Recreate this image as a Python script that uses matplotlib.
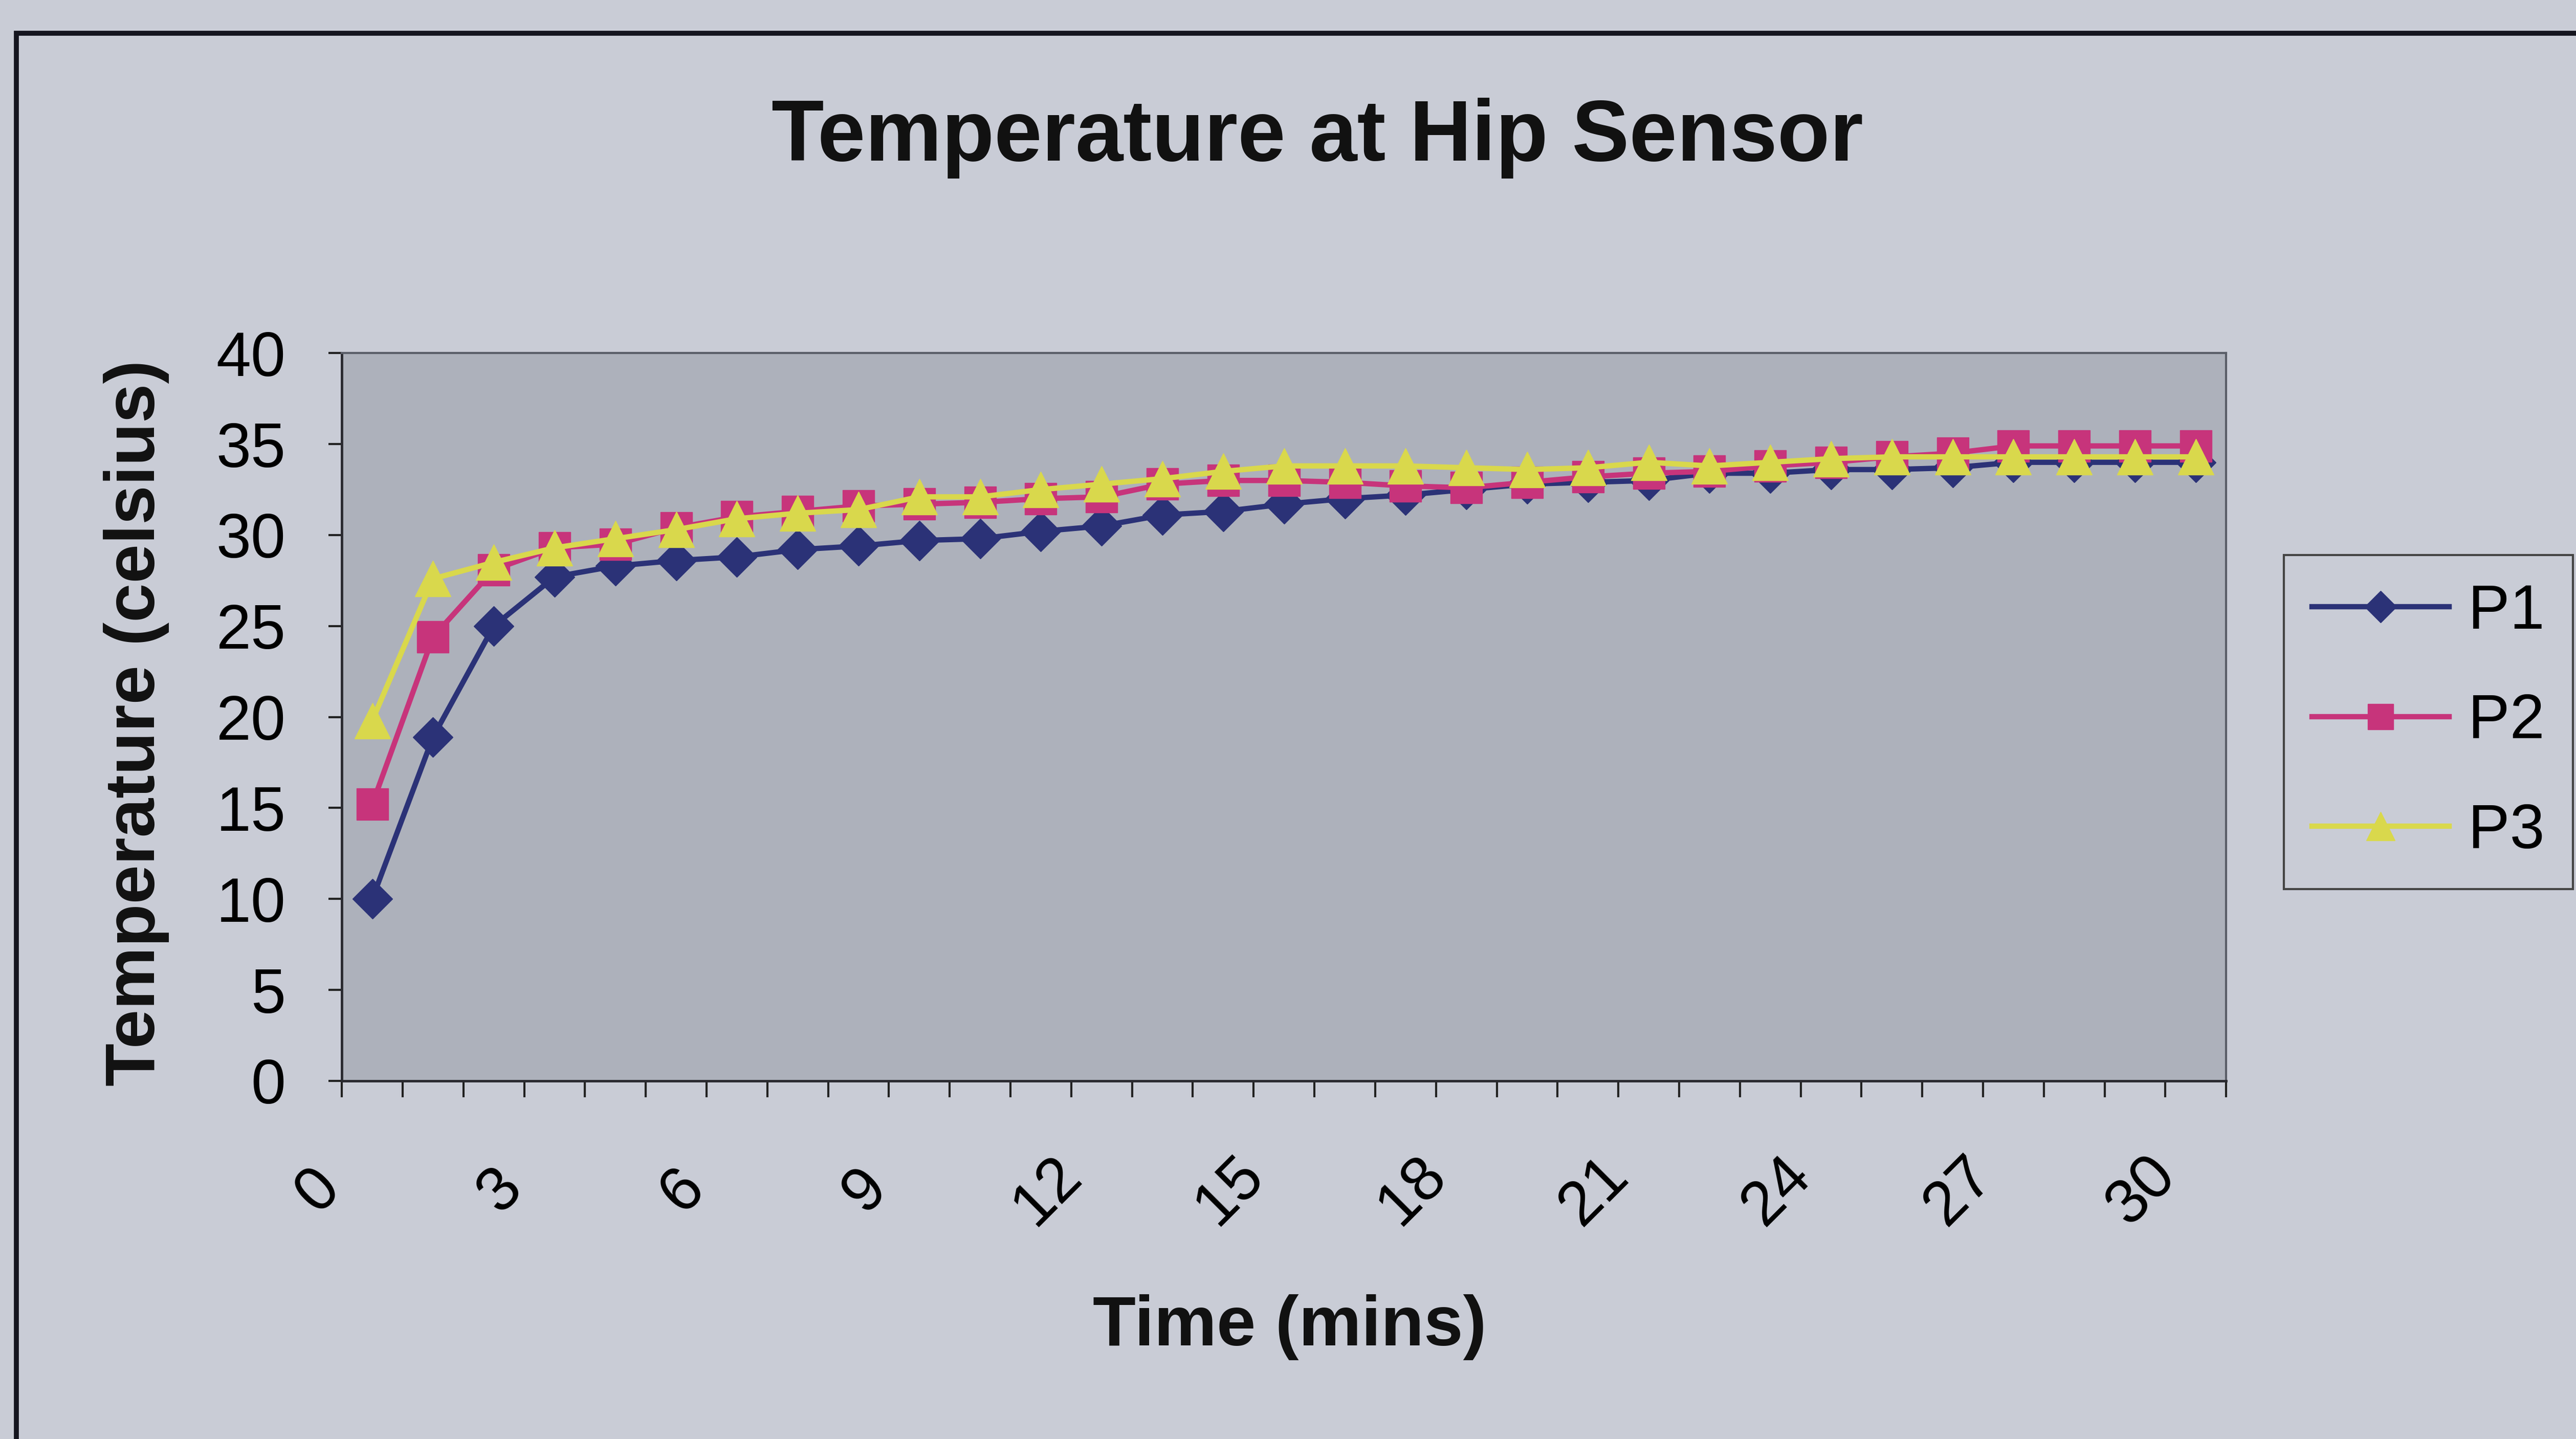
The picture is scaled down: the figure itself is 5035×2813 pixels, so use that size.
import matplotlib
matplotlib.use('Agg')
import matplotlib.pyplot as plt
import numpy as np
from matplotlib.patches import Rectangle
from matplotlib.transforms import ScaledTranslation

plt.rcParams['font.family'] = ['Liberation Sans', 'DejaVu Sans']

# ---- data ----
minutes = [0, 1, 2, 3, 4, 5, 6, 7, 8, 9, 10, 11, 12, 13, 14, 15,
           16, 17, 18, 19, 20, 21, 22, 23, 24, 25, 26, 27, 28, 29, 30]
p1 = [10.0, 18.9, 25.0, 27.7, 28.3, 28.6, 28.8, 29.2, 29.4, 29.7, 29.8,
      30.2, 30.5, 31.1, 31.3, 31.7, 32.0, 32.2, 32.5, 32.8, 32.9, 33.0,
      33.4, 33.4, 33.6, 33.6, 33.7, 34.0, 34.0, 34.0, 34.0]
p2 = [15.2, 24.4, 28.1, 29.3, 29.5, 30.4, 31.0, 31.3, 31.6, 31.7, 31.8,
      32.0, 32.1, 32.8, 33.0, 33.0, 32.9, 32.7, 32.6, 32.9, 33.2, 33.4,
      33.5, 33.8, 34.0, 34.3, 34.5, 34.9, 34.9, 34.9, 34.9]
p3 = [19.8, 27.6, 28.5, 29.3, 29.8, 30.3, 30.9, 31.2, 31.4, 32.1, 32.1,
      32.5, 32.8, 33.1, 33.5, 33.8, 33.8, 33.8, 33.7, 33.6, 33.7, 34.0,
      33.8, 34.0, 34.2, 34.3, 34.3, 34.3, 34.3, 34.3, 34.3]
series_names = ['P1', 'P2', 'P3']
xtick_values = [0, 3, 6, 9, 12, 15, 18, 21, 24, 27, 30]
xtick_labels = ['0', '3', '6', '9', '12', '15', '18', '21', '24', '27', '30']
ytick_values = [0, 5, 10, 15, 20, 25, 30, 35, 40]

title = 'Temperature at Hip Sensor'
xlabel = 'Time (mins)'
ylabel = 'Temperature (celsius)'

# ---- style ----
BG = '#c9ccd6'
PLOT_BG = '#adb1bb'
C1 = '#2b3277'
C2 = '#c7347b'
C3 = '#d9d84c'

fig = plt.figure(figsize=(50.35, 28.13), dpi=100, facecolor=BG)
ax = fig.add_axes([0.1327, 0.2489, 0.7315, 0.5057], facecolor=PLOT_BG)

l1, = ax.plot(minutes, p1, color=C1, marker='D', ms=40, lw=7.5, label=series_names[0], zorder=3)
l2, = ax.plot(minutes, p2, color=C2, marker='s', ms=45, lw=7.5, label=series_names[1], zorder=4)
l3, = ax.plot(minutes, p3, color=C3, marker='^', ms=50, lw=7.5, label=series_names[2], zorder=5)

ax.set_xlim(-0.5, 30.5)
ax.set_ylim(0, 40)
ax.set_yticks(ytick_values)
ax.set_yticklabels([str(v) for v in ytick_values])

# category boundary ticks (major, unlabeled) and labels at every 3rd category (minor)
ax.set_xticks(np.arange(-0.5, 31.0, 1.0))
ax.set_xticklabels([])
ax.set_xticks(xtick_values, minor=True)
ax.set_xticklabels(xtick_labels, minor=True)
ax.tick_params(axis='x', which='major', length=23, width=3, direction='out',
               color='#222222', labelbottom=False)
ax.tick_params(axis='x', which='minor', length=0, pad=0, labelsize=88)
ax.tick_params(axis='y', length=19, width=3, direction='out', color='#222222',
               pad=60, labelsize=88)

off = ScaledTranslation(-1.06, -2.15, fig.dpi_scale_trans)
for lbl in ax.get_xticklabels(minor=True):
    lbl.set_rotation(45)
    lbl.set_ha('center')
    lbl.set_va('center')
    lbl.set_rotation_mode('anchor')
    lbl.set_transform(lbl.get_transform() + off)

for side in ['top', 'right']:
    ax.spines[side].set_color('#5a5e68')
    ax.spines[side].set_linewidth(3)
for side in ['left', 'bottom']:
    ax.spines[side].set_color('#2a2a30')
    ax.spines[side].set_linewidth(3.5)

fig.text(0.5115, 0.904, title, ha='center', va='center', fontsize=121,
         fontweight='bold', color='#111111')
fig.text(0.5006, 0.0776, xlabel, ha='center', va='center', fontsize=99,
         fontweight='bold', color='#111111')
fig.text(0.053, 0.4977, ylabel, ha='center', va='center', rotation=90,
         fontsize=99, fontweight='bold', color='#111111')

leg = fig.legend(handles=[l1, l2, l3], labels=series_names, loc='upper left',
                 bbox_to_anchor=(0.8865, 0.6142), bbox_transform=fig.transFigure,
                 fontsize=88, frameon=True, fancybox=False, edgecolor='#444444',
                 facecolor=BG, framealpha=1, handlelength=2.2, labelspacing=0.82,
                 borderpad=0.45, handletextpad=0.3, markerscale=0.8,
                 borderaxespad=0)
leg.get_frame().set_linewidth(3)

# outer chart frame
fig.patches.append(Rectangle((0.0064, -0.1), 1.2, 1.077, transform=fig.transFigure,
                             fill=False, edgecolor='#15151f', linewidth=7,
                             clip_on=False))

fig.savefig('out.png', dpi=100, facecolor=BG)
